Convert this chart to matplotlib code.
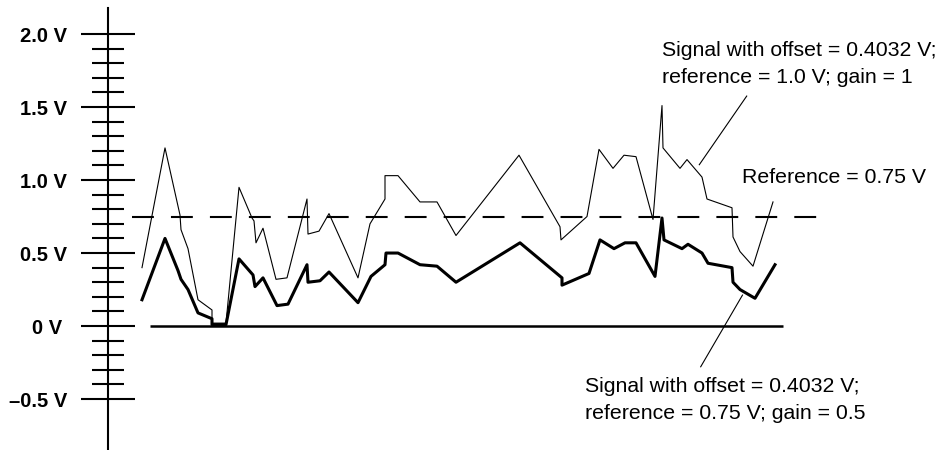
import matplotlib
matplotlib.use("Agg")
import matplotlib.pyplot as plt
from matplotlib.ticker import FixedLocator
from matplotlib.transforms import ScaledTranslation

plt.rcParams['font.family'] = ['Liberation Sans', 'DejaVu Sans']

# signal with gain = 1, reference = 1.0 V (thin trace)
t_gain1 = [0, 23, 38, 39, 46, 56, 70, 70, 84, 97, 110, 112, 114, 121, 134, 145,
           165, 166, 177, 187, 216, 228, 243, 243, 256, 278, 295, 314, 377, 418,
           419, 445, 457, 471, 482, 494, 511, 520, 521, 538, 545, 560, 565, 590,
           591, 598, 611, 631]
v_gain1 = [0.40, 1.22, 0.76, 0.66, 0.53, 0.18, 0.11, 0.02, 0.02, 0.95, 0.74, 0.72,
           0.57, 0.67, 0.32, 0.33, 0.87, 0.63, 0.65, 0.77, 0.33, 0.70, 0.87, 1.03,
           1.03, 0.85, 0.85, 0.62, 1.17, 0.68, 0.59, 0.75, 1.21, 1.08, 1.17, 1.16,
           0.73, 1.51, 1.22, 1.08, 1.14, 1.02, 0.87, 0.81, 0.61, 0.51, 0.41, 0.85]

# signal with gain = 0.5, reference = 0.75 V (thick trace)
t_gain05 = [0, 23, 36, 39, 46, 56, 70, 70, 84, 97, 111, 113, 121, 135, 146, 165,
            166, 178, 187, 216, 229, 243, 244, 256, 278, 295, 314, 378, 420, 420,
            447, 458, 472, 483, 494, 513, 520, 522, 540, 546, 560, 566, 590, 591,
            598, 613, 633]
v_gain05 = [0.18, 0.60, 0.38, 0.32, 0.25, 0.09, 0.05, 0.01, 0.01, 0.46, 0.35, 0.27,
            0.33, 0.14, 0.15, 0.42, 0.30, 0.31, 0.37, 0.16, 0.34, 0.42, 0.50, 0.50,
            0.42, 0.41, 0.30, 0.57, 0.33, 0.28, 0.36, 0.59, 0.53, 0.57, 0.57, 0.34,
            0.74, 0.59, 0.53, 0.56, 0.50, 0.43, 0.40, 0.30, 0.25, 0.19, 0.42]

ref_level = 0.75
major_ticks = [-0.5, 0.0, 0.5, 1.0, 1.5, 2.0]
major_labels = ['\u20130.5 V', '0 V', '0.5 V', '1.0 V', '1.5 V', '2.0 V']
minor_ticks = [v / 10 for v in range(-4, 20) if v % 5 != 0]

fig = plt.figure(figsize=(9.41, 4.5), dpi=100)
ax = fig.add_axes([0, 0, 1, 1])
ax.set_xlim(-142, 799)
ax.set_ylim(-0.849, 2.233)

# baseline and dashed reference
ax.plot([8, 641], [0, 0], color='black', lw=1.8, solid_capstyle='butt')
ax.plot([-10, 680], [ref_level, ref_level], color='black', lw=1.5,
        dashes=(10.5, 8.2), dash_capstyle='butt')

ax.plot(t_gain1, v_gain1, color='black', lw=0.8)
ax.plot(t_gain05, v_gain05, color='black', lw=2.2)

# vertical axis through the left, ticks on both sides
for s in ['top', 'right', 'bottom']:
    ax.spines[s].set_visible(False)
ax.spines['left'].set_position(('data', -34))
ax.spines['left'].set_bounds(-0.9, 2.178)
ax.spines['left'].set_linewidth(1.5)
ax.xaxis.set_visible(False)
ax.yaxis.set_major_locator(FixedLocator(major_ticks))
ax.yaxis.set_minor_locator(FixedLocator(minor_ticks))
ax.set_yticklabels(major_labels, fontsize=14.5, fontweight='bold')
ax.tick_params(axis='y', which='major', direction='inout', length=38.9,
               width=1.5, pad=10)
ax.tick_params(axis='y', which='minor', direction='inout', length=23.3,
               width=1.5)
# the "0 V" label sits a little further left in the original
zero_lbl = ax.get_yticklabels()[1]
zero_lbl.set_transform(zero_lbl.get_transform()
                       + ScaledTranslation(-0.05, 0, fig.dpi_scale_trans))

# annotations
ax.text(520, 1.952, 'Signal with offset = 0.4032 V;\nreference = 1.0 V; gain = 1',
        fontsize=15.3, ha='left', va='top', linespacing=1.5)
ax.plot([604.7, 557.3], [1.575, 1.105], color='black', lw=0.8)
ax.text(600, 0.977, 'Reference = 0.75 V', fontsize=15.3, ha='left', va='baseline')
ax.text(443, -0.35, 'Signal with offset = 0.4032 V;\nreference = 0.75 V; gain = 0.5',
        fontsize=15.3, ha='left', va='top', linespacing=1.5)
ax.plot([600.5, 558.7], [0.212, -0.279], color='black', lw=0.8)

fig.savefig('out.png', dpi=100)
